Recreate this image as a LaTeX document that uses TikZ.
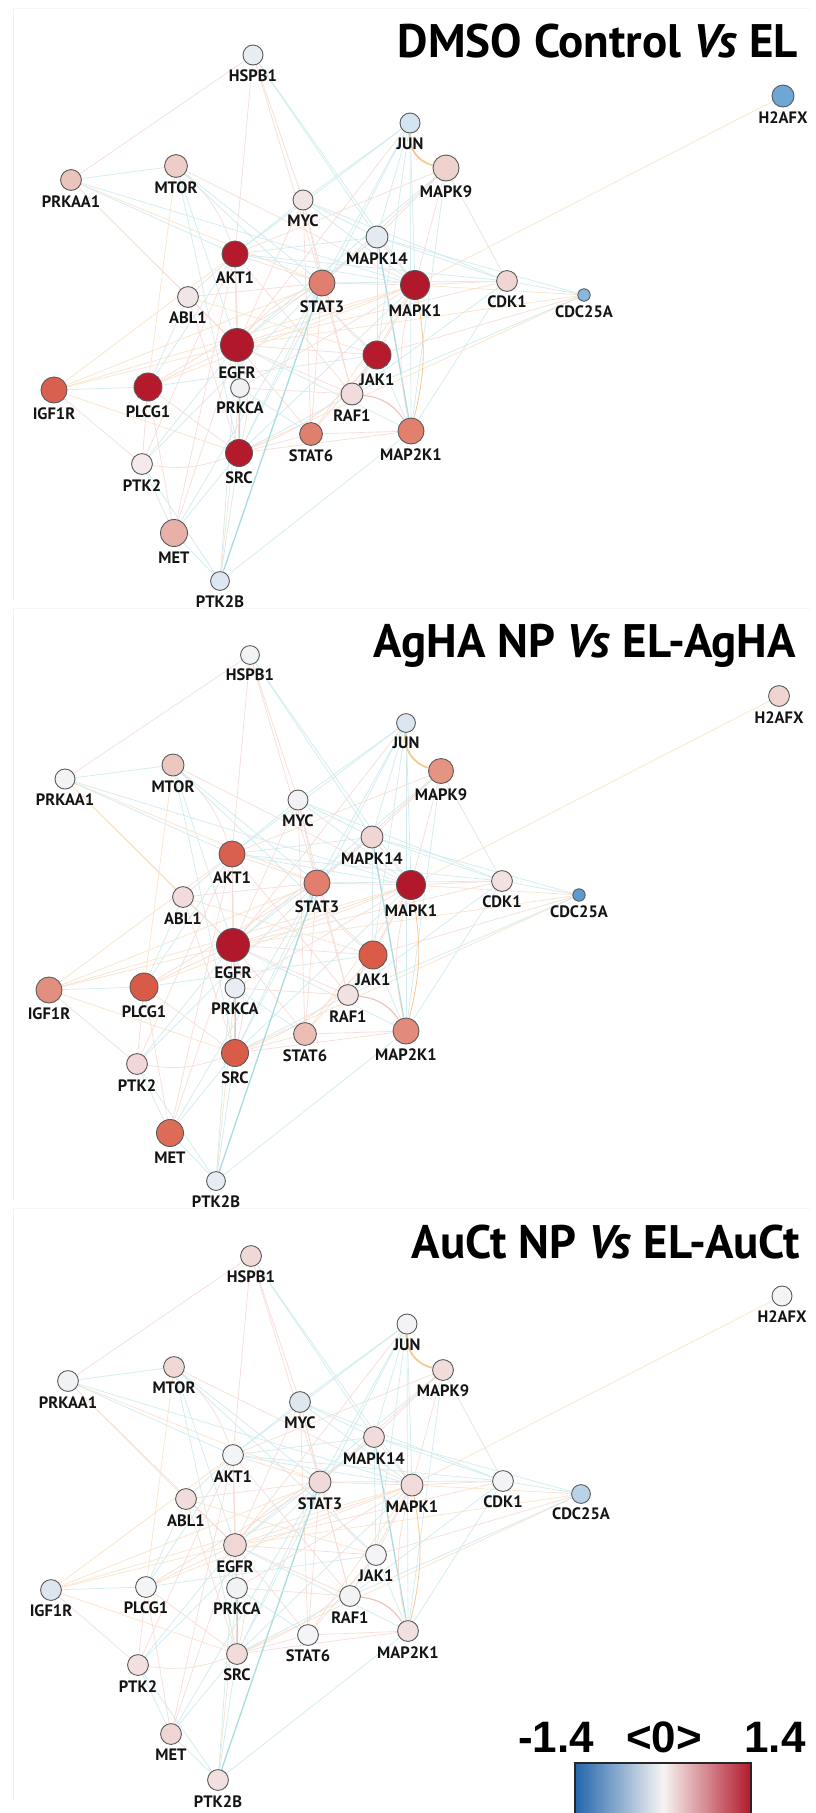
\documentclass[tikz,border=0pt]{standalone}
\usepackage{fontspec}
\setmainfont{PT Sans}
\newfontfamily\cbfont{Liberation Sans}

\pgfdeclarelayer{paper}
\pgfdeclarelayer{links}
\pgfsetlayers{paper,links,main}

% edge colours
\definecolor{lnkP}{HTML}{F7DDD7}
\definecolor{lnkC}{HTML}{D0ECEF}
\definecolor{lnkO}{HTML}{FAE4CA}
\definecolor{lnkG}{HTML}{E4E4E4}
\definecolor{lnkCs}{HTML}{A9DCE0}
\definecolor{lnkPs}{HTML}{EFC0BB}
\definecolor{lnkOs}{HTML}{F5C993}
% colour bar
\definecolor{cbBlue}{HTML}{2166AC}
\definecolor{cbRed}{HTML}{B2182B}
\definecolor{cbMid}{HTML}{F7F4F3}
\definecolor{ring}{HTML}{5A5A5A}

\tikzset{
  gene/.style={circle, draw=ring, line width=0.9pt, inner sep=0pt},
  glabel/.style={font=\bfseries\fontsize{16.5}{16.5}\selectfont, inner sep=0pt, text=black!92},
  ttl/.style={anchor=base east, font=\bfseries\fontsize{47}{47}\selectfont, inner sep=0pt},
  cbnum/.style={anchor=base, font=\cbfont\bfseries\fontsize{44}{44}\selectfont, inner sep=0pt},
  lp/.style={draw=lnkP, line width=0.7pt},
  lc/.style={draw=lnkC, line width=0.7pt},
  lo/.style={draw=lnkO, line width=0.7pt},
  lg/.style={draw=lnkG, line width=0.7pt},
  lC/.style={draw=lnkCs, line width=1.3pt},
  lpb/.style={lp, bend left=14},
  lpr/.style={lp, bend right=14},
  lPb/.style={draw=lnkPs, line width=1.1pt, bend left=25},
  lOb/.style={draw=lnkOs, line width=1.8pt, bend right=40},
  lob/.style={draw=lnkOs, line width=0.8pt, bend left=12},
}

% connections of the interaction network (same in every panel)
\def\linklist{HSPB1/PRKAA1/p, HSPB1/AKT1/p, HSPB1/MYC/p, HSPB1/STAT3/p, HSPB1/MAPK14/c, HSPB1/MAPK1/c,
 PRKAA1/MTOR/c, PRKAA1/AKT1/c, PRKAA1/EGFR/p, PRKAA1/ABL1/o, PRKAA1/MAPK1/c, PRKAA1/STAT3/o,
 MTOR/AKT1/pb, MTOR/EGFR/c, MTOR/PLCG1/o, MTOR/STAT3/c, MTOR/MAPK1/p, MTOR/SRC/c, MTOR/JAK1/c,
 MYC/JUN/c, MYC/AKT1/c, MYC/STAT3/p, MYC/MAPK14/c, MYC/MAPK1/c, MYC/EGFR/p, MYC/STAT6/p, MYC/CDK1/c, MYC/RAF1/p,
 JUN/AKT1/c, JUN/MAPK14/c, JUN/MAPK1/c, JUN/STAT3/c, JUN/MAP2K1/c, JUN/EGFR/p, JUN/JAK1/c, JUN/MAPK9/Ob, JUN/SRC/c,
 MAPK9/MAPK14/p, MAPK9/MAPK1/p, MAPK9/CDK1/g, MAPK9/STAT3/p, MAPK9/AKT1/p, MAPK9/MAP2K1/c, MAPK9/EGFR/c,
 H2AFX/MAPK1/o,
 CDK1/CDC25A/c, CDK1/MAPK1/p, CDK1/MAPK14/c, CDK1/EGFR/p, CDK1/STAT3/c, CDK1/RAF1/c, CDK1/AKT1/c, CDK1/MAP2K1/c,
 CDC25A/MAPK14/c, CDC25A/MAPK1/o, CDC25A/EGFR/o, CDC25A/JAK1/p, CDC25A/SRC/o, CDC25A/RAF1/c,
 MAPK14/MAP2K1/C, MAPK14/STAT3/p, MAPK14/MAPK1/p, MAPK14/EGFR/c, MAPK14/AKT1/c, MAPK14/JAK1/c,
 MAPK1/MAP2K1/ob, MAPK1/MAP2K1/pr, MAPK1/RAF1/p, MAPK1/JAK1/p, MAPK1/EGFR/p, MAPK1/STAT3/p, MAPK1/SRC/c, MAPK1/AKT1/c, MAPK1/STAT6/o,
 RAF1/MAP2K1/Pb, RAF1/EGFR/p, RAF1/SRC/c, RAF1/JAK1/c, RAF1/AKT1/p, RAF1/STAT3/p,
 EGFR/AKT1/p, EGFR/STAT3/pb, EGFR/SRC/pb, EGFR/PLCG1/p, EGFR/PRKCA/c, EGFR/IGF1R/o, EGFR/JAK1/p, EGFR/MAP2K1/c,
 EGFR/STAT6/p, EGFR/ABL1/p, EGFR/PTK2/c, EGFR/MET/p, EGFR/PTK2B/c,
 SRC/PTK2/pb, SRC/PTK2B/c, SRC/MET/c, SRC/STAT6/p, SRC/STAT3/c, SRC/PLCG1/p, SRC/PRKCA/C, SRC/IGF1R/o, SRC/MAP2K1/p,
 SRC/JAK1/pr, SRC/ABL1/p, SRC/AKT1/p,
 IGF1R/AKT1/o, IGF1R/PLCG1/c, IGF1R/PTK2/p, IGF1R/STAT3/o, IGF1R/MAPK1/o,
 PTK2/MET/c, PTK2/PLCG1/p, PTK2/PTK2B/c, PTK2/STAT3/c, PTK2/AKT1/p,
 MET/PTK2B/c, MET/STAT3/c, MET/PLCG1/p, MET/AKT1/p,
 PTK2B/MAP2K1/c, PTK2B/STAT3/C, PTK2B/PRKCA/o,
 ABL1/AKT1/g, ABL1/STAT3/p, ABL1/PLCG1/c, ABL1/JAK1/o,
 PLCG1/AKT1/c, PLCG1/STAT3/p, PLCG1/MAPK1/o, PLCG1/JAK1/c,
 JAK1/STAT3/pb, JAK1/STAT6/p, JAK1/MAP2K1/c,
 STAT6/STAT3/p, STAT6/MAP2K1/p, STAT6/PRKCA/c,
 PRKCA/AKT1/p, PRKCA/MAPK1/p, PRKCA/RAF1/p, AKT1/STAT3/p}

% #1 name prefix, #2 list name/x/y/radius/fill
\newcommand\genepanel[2]{%
  \foreach \gn/\gx/\gy/\gr/\gf in {#2} {
    \definecolor{genefill}{HTML}{\gf}
    \node[gene, fill=genefill, minimum size=2*\gr] (#1\gn) at (\gx,\gy) {};
    \node[glabel] (#1\gn-t) at (\gx,\gy+\gr+10.8) {\gn};
  }
  \begin{pgfonlayer}{links}
    \foreach \ea/\eb/\es in \linklist { \draw[l\es] (#1\ea) to (#1\eb); }
  \end{pgfonlayer}
}

\begin{document}
\begin{tikzpicture}[x=1pt,y=-1pt]
\useasboundingbox (0,0) rectangle (816,1813);
\begin{pgfonlayer}{paper}
  \fill[white] (0,0) rectangle (816,1813);
  \foreach \oy in {0,600,1200} {
    \draw[black!6, line width=0.8pt] (13,\oy+8) -- (13,\oy+600);
    \draw[black!4, line width=0.8pt] (13,\oy+8) -- (810,\oy+8);
  }
\end{pgfonlayer}

% ---- panel 1
\node[ttl] (title1) at (798,57) {DMSO Control \textit{Vs} EL};
\genepanel{a}{HSPB1/253/55/10/E6EDF3, H2AFX/783/96/11/6EA6D5, JUN/410/123/10/D4E4F0, MAPK9/446/168/13/EFD2CE,
 PRKAA1/71/180/10.4/EAC3BB, MTOR/176/166/11.4/EECDC8, MYC/303/200/10/F3E4E4, MAPK14/377/237/11/E3EAF1,
 AKT1/235/254/13/B4192C, STAT3/322/283/13/E07F6F, MAPK1/415/285/14.5/B2182B, CDK1/507/281/10.4/F0D6D3,
 CDC25A/584/295/6.2/88B7DC, ABL1/188/297/10.4/F2E5E7, EGFR/237/345/16.5/B2182B, JAK1/377/355/14/B51B2D,
 IGF1R/54/390/13/D8604F, PLCG1/148/387/14/B51A2C, PRKCA/240/388/9.4/F1F1F3, RAF1/352/394/11/F0DCDC,
 MAP2K1/411/431/13/E0806D, STAT6/311/434/11.4/DF7F6E, SRC/239/453/13.5/B41A2B, PTK2/142/464/10.4/F5EAEB,
 MET/174/533/13.5/E8B0A6, PTK2B/220/581/9.4/DCE7F1}

% ---- panel 2
\node[ttl] (title2) at (796,657) {AgHA NP \textit{Vs} EL-AgHA};
\genepanel{b}{HSPB1/250/655/9.4/F2F3F5, H2AFX/779/696/10.4/F0D4CF, JUN/406/723/9.4/DCE6F0, MAPK9/441/771/12.5/E59382,
 PRKAA1/65/779/10/F3F3F5, MTOR/173/765/11/ECC7BF, MYC/298/800/10/F2F2F4, MAPK14/372/837/11/F0D6D2,
 AKT1/232/854/13/D9604E, STAT3/317/883/13/E17E6D, MAPK1/411/885/14.5/B2182B, CDK1/502/881/10.4/F3E1E0,
 CDC25A/579/895/6.2/5C9BD1, ABL1/183/897/10.4/F1DCDB, EGFR/233/945/16.5/B2182B, JAK1/373/955/14/D95B48,
 IGF1R/49/990/13/E28F80, PLCG1/144/987/14/D85A47, PRKCA/235/988/10/E7EDF3, RAF1/348/995/10.4/F2E1E1,
 MAP2K1/406/1031/13/E28B7A, STAT6/305/1034/11.4/EBBDB3, SRC/235/1053/13.5/D85C48, PTK2/137/1064/10.4/F1D8D6,
 MET/170/1133/13.5/DC6C58, PTK2B/216/1181/9.4/E6ECF2}

% ---- panel 3
\node[ttl] (title3) at (800,1258) {AuCt NP \textit{Vs} EL-AuCt};
\genepanel{c}{HSPB1/251/1256/10.4/F0D8D6, H2AFX/782/1296/10/F4F4F6, JUN/407/1324/10/F3F3F5, MAPK9/443/1370/10.4/F1DCDB,
 PRKAA1/68/1381/10.4/F1F2F4, MTOR/174/1367/10.4/F0D8D6, MYC/300/1402/10.4/DFE7EE, MAPK14/374/1437/10.4/F1DCDB,
 AKT1/233/1455/10.4/F3F4F6, STAT3/320/1482/11/F0DAD9, MAPK1/412/1485/11/F1DCDB, CDK1/503/1481/10.4/F3F3F5,
 CDC25A/581/1494/9.4/B8D2E8, ABL1/186/1499/10.4/F1DCDC, EGFR/235/1545/11.4/F0D7D5, JAK1/376/1555/10.4/F4F4F6,
 IGF1R/51/1590/10.4/DDE6EF, PLCG1/146/1587/10.4/F3F4F6, PRKCA/237/1588/10.4/F1F2F4, RAF1/350/1596/10.4/F3F3F5,
 MAP2K1/408/1631/10.4/F2E0E0, STAT6/308/1635/10.4/F4F4F6, SRC/237/1654/10.4/F1DCDB, PTK2/138/1665/10.4/F2E0E0,
 MET/171/1734/10.4/EFD6D4, PTK2B/218/1780/10.4/F2E0E0}

% ---- colour scale
\shade[left color=cbBlue, right color=cbRed, middle color=cbMid] (575,1763) rectangle (751,1820);
\draw[black!85, line width=1.3pt] (575,1763) rectangle (751,1820);
\node[cbnum] (cbmin) at (556,1752) {-1.4};
\node[cbnum] (cbmid) at (664,1752) {<0>};
\node[cbnum] (cbmax) at (775,1752) {1.4};
\end{tikzpicture}
\end{document}
